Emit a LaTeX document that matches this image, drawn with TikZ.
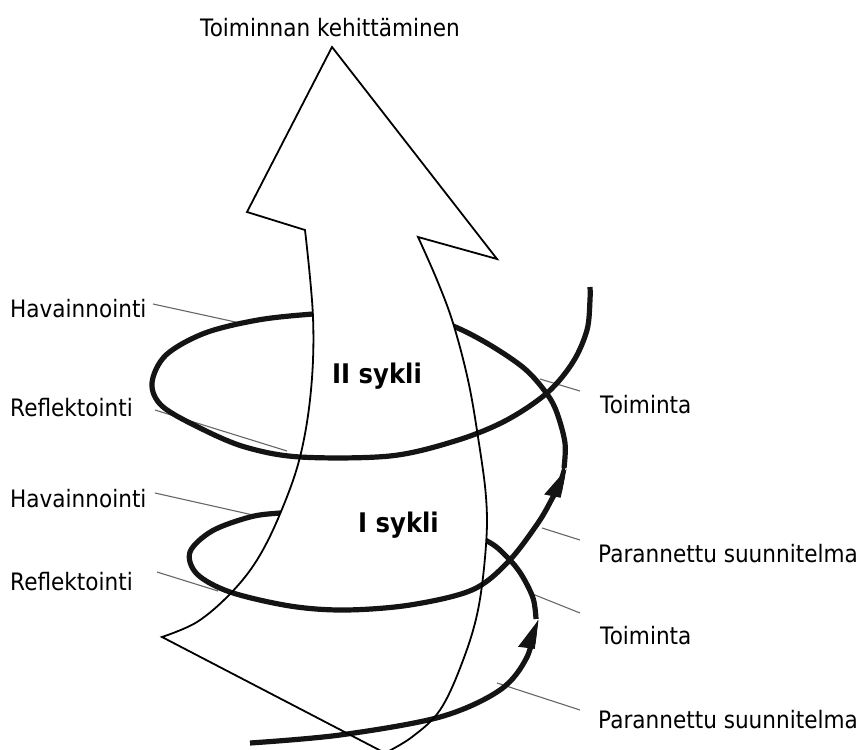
\documentclass[tikz,border=0pt]{standalone}
\usepackage{fontspec}
\setmainfont[FakeStretch=0.9]{DejaVu Sans}
\usetikzlibrary{arrows.meta}
\begin{document}
\begin{tikzpicture}[x=1pt,y=-1pt,
  spiral/.style={line width=5.2pt, black!92},
  shaftline/.style={line width=1.8pt, black},
  leader/.style={line width=1.1pt, black!60},
  lbl/.style={anchor=base west, inner sep=0pt, font=\fontsize{24}{28}\selectfont},
  cyc/.style={anchor=base west, inner sep=0pt, font=\fontsize{27}{32}\selectfont\bfseries},
  tipped/.style={-{Triangle[harpoon, length=25pt, width=27pt]}}]
\useasboundingbox (0,0) rectangle (866,749);

% leader line end points
\coordinate (h1a) at (153,304); \coordinate (h1b) at (240,323);
\coordinate (r1a) at (155,410); \coordinate (r1b) at (287,451);
\coordinate (h2a) at (155,493); \coordinate (h2b) at (253,515);
\coordinate (r2a) at (157,572); \coordinate (r2b) at (218,591);
\coordinate (t1a) at (540,379); \coordinate (t1b) at (580,391);
\coordinate (p1a) at (542,528); \coordinate (p1b) at (580,540);
\coordinate (t2a) at (530,593); \coordinate (t2b) at (580,613);
\coordinate (p2a) at (497,683); \coordinate (p2b) at (580,710);

\draw[leader] (h1a) -- (h1b);
\draw[leader] (r1a) -- (r1b);
\draw[leader] (h2a) -- (h2b);
\draw[leader] (r2a) -- (r2b);
\draw[leader] (t1a) -- (t1b);
\draw[leader] (p1a) -- (p1b);
\draw[leader] (t2a) -- (t2b);
\draw[leader] (p2a) -- (p2b);

% spiral
\draw[spiral, tipped] plot[smooth, tension=0.55] coordinates
  {(250,743) (340,735) (440,717) (500,690) (527,657) (536,619)};
\draw[spiral, tipped] plot[smooth, tension=0.55] coordinates
  {(536,619) (533,598) (521,574) (507,557) (487,541) (440,523) (380,513)
   (320,511) (280,513) (250,517) (212,531) (190,552) (197,574) (230,592)
   (290,606) (345,610) (410,605) (472,590) (508,562) (538,523) (553,497)
   (560,484) (564,468)};
\draw[spiral] plot[smooth, tension=0.55] coordinates
  {(564,468) (565,443) (557,413) (547,394) (525,369) (490,345) (453,326)
   (415,315) (370,311) (313,314) (258,320) (205,333) (166,355) (152,383)
   (162,406) (200,428) (245,447) (300,457) (390,456) (455,441) (505,421)
   (547,393) (573,362) (587,330) (590,300) (590,287)};

% hide the back parts of the spiral behind the arrow
\begin{scope}
\clip (332,47) -- (497,259) -- plot[smooth,tension=0.6] coordinates
   {(418,237) (437,280) (453,323) (468,380) (478,437) (486,497) (486,545)
    (478,610) (462,663) (440,710) (412,737) (385,753)}
  -- plot[smooth,tension=0.6] coordinates
   {(162,637) (197,622) (230,594) (257,560) (280,514) (300,457) (311,390)
    (313,317) (305,230)}
  -- (247,212) -- cycle;
\fill[white] (250,293) rectangle (500,347);
\fill[white] (250,495) rectangle (500,556);
\end{scope}

% big arrow
\draw[shaftline, line join=miter] (332,47) -- (497,259) -- plot[smooth,tension=0.6] coordinates
   {(418,237) (437,280) (453,323) (468,380) (478,437) (486,497) (486,545)
    (478,610) (462,663) (440,710) (412,737) (385,753)}
  -- plot[smooth,tension=0.6] coordinates
   {(162,637) (197,622) (230,594) (257,560) (280,514) (300,457) (311,390)
    (313,317) (305,230)}
  -- (247,212) -- cycle;

% labels
\node[lbl] (top) at (200,37) {Toiminnan kehittäminen};
\node[lbl] (hav1) at (10,317) {Havainnointi};
\node[lbl] (ref1) at (10,416) {Reflektointi};
\node[lbl] (hav2) at (10,507) {Havainnointi};
\node[lbl] (ref2) at (10,590) {Reflektointi};
\node[lbl] (toi1) at (600,413) {Toiminta};
\node[lbl] (par1) at (598,562) {Parannettu suunnitelma};
\node[lbl] (toi2) at (600,644) {Toiminta};
\node[lbl] (par2) at (598,728) {Parannettu suunnitelma};
\node[cyc] (c2) at (332,383) {II sykli};
\node[cyc] (c1) at (358,532) {I sykli};
\end{tikzpicture}
\end{document}
